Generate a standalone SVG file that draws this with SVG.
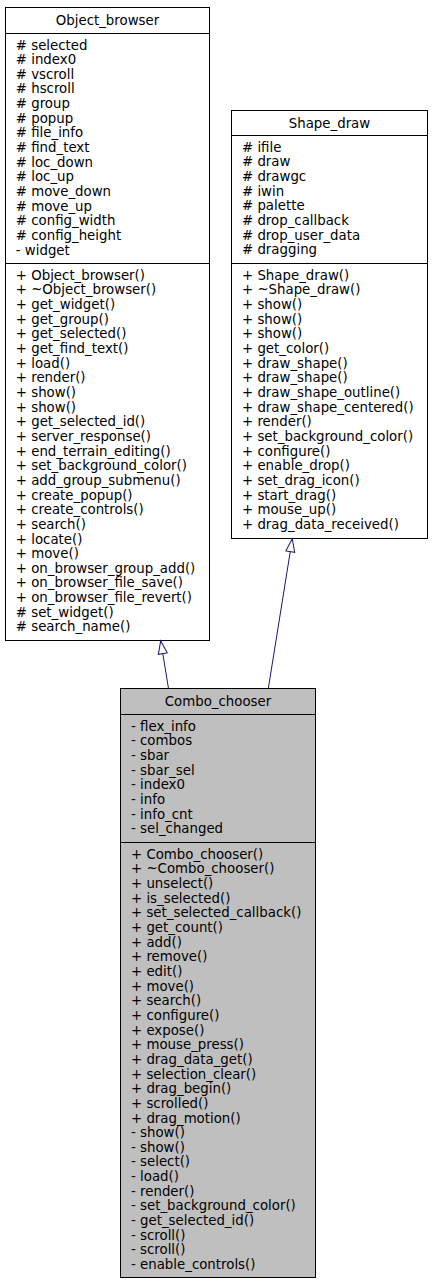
<svg xmlns="http://www.w3.org/2000/svg" width="432" height="1283" viewBox="0 0 432 1283">
<style>
text{font-family:"DejaVu Sans","Liberation Sans",sans-serif;font-size:13.33px;fill:#000}
.t{text-anchor:middle}
.box{fill:#fff;stroke:#000;stroke-width:1}
.cur{fill:#bfbfbf;stroke:#000;stroke-width:1}
.sep{stroke:#000;stroke-width:1}
.edge{fill:none;stroke:#191970;stroke-width:1}
</style>
<defs>
<marker id="inh" markerUnits="userSpaceOnUse" viewBox="-1 -1 15 11" refX="13" refY="4.5" markerWidth="15" markerHeight="11" orient="auto" overflow="visible">
<path d="M0,0 L13,4.5 L0,9 Z" fill="#fff" stroke="#191970" stroke-width="1"/>
</marker>
</defs>
<rect width="432" height="1283" fill="#fff"/>

<g id="Object_browser">
<rect class="box" x="5.5" y="7.5" width="204" height="633"/>
<line class="sep" x1="5.5" y1="33.5" x2="209.5" y2="33.5"/>
<line class="sep" x1="5.5" y1="263.5" x2="209.5" y2="263.5"/>
<text class="t" x="107.5" y="25">Object_browser</text>
<text x="15.8" y="49.5"># selected</text>
<text x="15.8" y="64.15"># index0</text>
<text x="15.8" y="78.8"># vscroll</text>
<text x="15.8" y="93.45"># hscroll</text>
<text x="15.8" y="108.1"># group</text>
<text x="15.8" y="122.75"># popup</text>
<text x="15.8" y="137.4"># file_info</text>
<text x="15.8" y="152.05"># find_text</text>
<text x="15.8" y="166.7"># loc_down</text>
<text x="15.8" y="181.35"># loc_up</text>
<text x="15.8" y="196"># move_down</text>
<text x="15.8" y="210.65"># move_up</text>
<text x="15.8" y="225.3"># config_width</text>
<text x="15.8" y="239.95"># config_height</text>
<text x="15.8" y="254.6">- widget</text>
<text x="15.8" y="279.8">+ Object_browser()</text>
<text x="15.8" y="294.45">+ ~Object_browser()</text>
<text x="15.8" y="309.1">+ get_widget()</text>
<text x="15.8" y="323.75">+ get_group()</text>
<text x="15.8" y="338.4">+ get_selected()</text>
<text x="15.8" y="353.05">+ get_find_text()</text>
<text x="15.8" y="367.7">+ load()</text>
<text x="15.8" y="382.35">+ render()</text>
<text x="15.8" y="397">+ show()</text>
<text x="15.8" y="411.65">+ show()</text>
<text x="15.8" y="426.3">+ get_selected_id()</text>
<text x="15.8" y="440.95">+ server_response()</text>
<text x="15.8" y="455.6">+ end_terrain_editing()</text>
<text x="15.8" y="470.25">+ set_background_color()</text>
<text x="15.8" y="484.9">+ add_group_submenu()</text>
<text x="15.8" y="499.55">+ create_popup()</text>
<text x="15.8" y="514.2">+ create_controls()</text>
<text x="15.8" y="528.85">+ search()</text>
<text x="15.8" y="543.5">+ locate()</text>
<text x="15.8" y="558.15">+ move()</text>
<text x="15.8" y="572.8">+ on_browser_group_add()</text>
<text x="15.8" y="587.45">+ on_browser_file_save()</text>
<text x="15.8" y="602.1">+ on_browser_file_revert()</text>
<text x="15.8" y="616.75"># set_widget()</text>
<text x="15.8" y="631.4"># search_name()</text>
</g>

<g id="Shape_draw">
<rect class="box" x="231.5" y="110.5" width="196" height="428"/>
<line class="sep" x1="231.5" y1="135.5" x2="427.5" y2="135.5"/>
<line class="sep" x1="231.5" y1="263.5" x2="427.5" y2="263.5"/>
<text class="t" x="329.5" y="128">Shape_draw</text>
<text x="242" y="151.8"># ifile</text>
<text x="242" y="166.45"># draw</text>
<text x="242" y="181.1"># drawgc</text>
<text x="242" y="195.75"># iwin</text>
<text x="242" y="210.4"># palette</text>
<text x="242" y="225.05"># drop_callback</text>
<text x="242" y="239.7"># drop_user_data</text>
<text x="242" y="254.35"># dragging</text>
<text x="242" y="279.8">+ Shape_draw()</text>
<text x="242" y="294.45">+ ~Shape_draw()</text>
<text x="242" y="309.1">+ show()</text>
<text x="242" y="323.75">+ show()</text>
<text x="242" y="338.4">+ show()</text>
<text x="242" y="353.05">+ get_color()</text>
<text x="242" y="367.7">+ draw_shape()</text>
<text x="242" y="382.35">+ draw_shape()</text>
<text x="242" y="397">+ draw_shape_outline()</text>
<text x="242" y="411.65">+ draw_shape_centered()</text>
<text x="242" y="426.3">+ render()</text>
<text x="242" y="440.95">+ set_background_color()</text>
<text x="242" y="455.6">+ configure()</text>
<text x="242" y="470.25">+ enable_drop()</text>
<text x="242" y="484.9">+ set_drag_icon()</text>
<text x="242" y="499.55">+ start_drag()</text>
<text x="242" y="514.2">+ mouse_up()</text>
<text x="242" y="528.85">+ drag_data_received()</text>
</g>

<g id="Combo_chooser">
<rect class="cur" x="120.5" y="688.5" width="195" height="589"/>
<line class="sep" x1="120.5" y1="714.5" x2="315.5" y2="714.5"/>
<line class="sep" x1="120.5" y1="842.5" x2="315.5" y2="842.5"/>
<text class="t" x="218" y="706.2">Combo_chooser</text>
<text x="131" y="730.8">- flex_info</text>
<text x="131" y="745.45">- combos</text>
<text x="131" y="760.1">- sbar</text>
<text x="131" y="774.75">- sbar_sel</text>
<text x="131" y="789.4">- index0</text>
<text x="131" y="804.05">- info</text>
<text x="131" y="818.7">- info_cnt</text>
<text x="131" y="833.35">- sel_changed</text>
<text x="131" y="858.8">+ Combo_chooser()</text>
<text x="131" y="873.45">+ ~Combo_chooser()</text>
<text x="131" y="888.1">+ unselect()</text>
<text x="131" y="902.75">+ is_selected()</text>
<text x="131" y="917.4">+ set_selected_callback()</text>
<text x="131" y="932.05">+ get_count()</text>
<text x="131" y="946.7">+ add()</text>
<text x="131" y="961.35">+ remove()</text>
<text x="131" y="976">+ edit()</text>
<text x="131" y="990.65">+ move()</text>
<text x="131" y="1005.3">+ search()</text>
<text x="131" y="1019.95">+ configure()</text>
<text x="131" y="1034.6">+ expose()</text>
<text x="131" y="1049.25">+ mouse_press()</text>
<text x="131" y="1063.9">+ drag_data_get()</text>
<text x="131" y="1078.55">+ selection_clear()</text>
<text x="131" y="1093.2">+ drag_begin()</text>
<text x="131" y="1107.85">+ scrolled()</text>
<text x="131" y="1122.5">+ drag_motion()</text>
<text x="131" y="1137.15">- show()</text>
<text x="131" y="1151.8">- show()</text>
<text x="131" y="1166.45">- select()</text>
<text x="131" y="1181.1">- load()</text>
<text x="131" y="1195.75">- render()</text>
<text x="131" y="1210.4">- set_background_color()</text>
<text x="131" y="1225.05">- get_selected_id()</text>
<text x="131" y="1239.7">- scroll()</text>
<text x="131" y="1254.35">- scroll()</text>
<text x="131" y="1269">- enable_controls()</text>
</g>

<g id="connectors">
<path class="edge" d="M168.5,688.5 L160.7,640.8" marker-end="url(#inh)"/>
<path class="edge" d="M268.3,688.5 L292.3,538.8" marker-end="url(#inh)"/>
</g>
</svg>
